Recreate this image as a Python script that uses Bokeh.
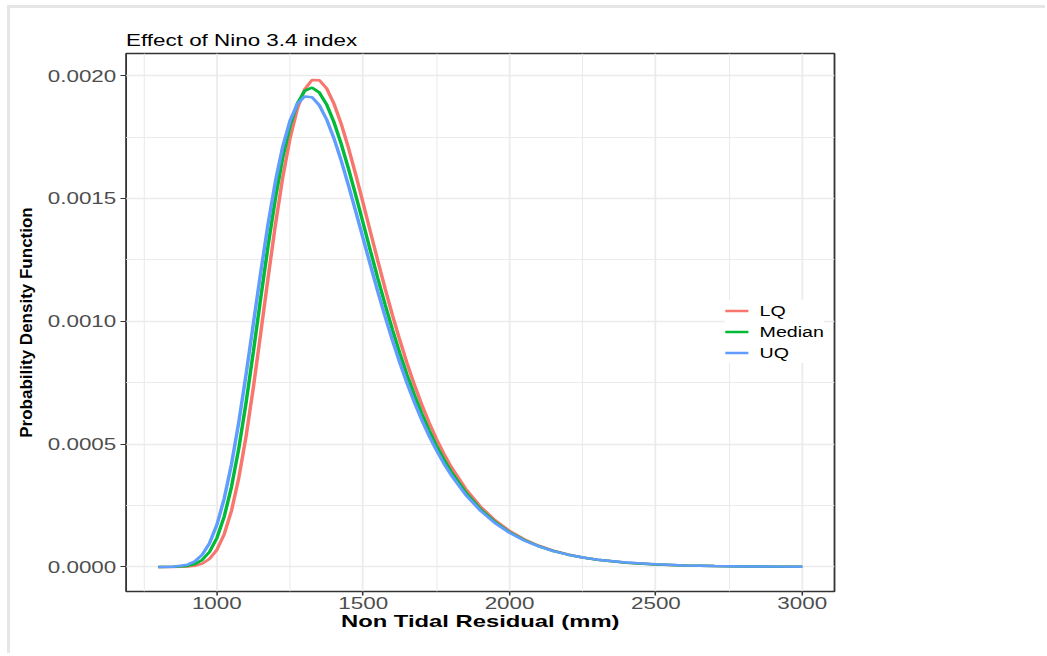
from bokeh.plotting import figure
from bokeh.models import (ColumnDataSource, Range1d, FixedTicker, Legend, LegendItem, Div)
from bokeh.layouts import row, column
from bokeh.embed import file_html
from bokeh.resources import INLINE

# Non tidal residual (mm) at which each density was evaluated
residual_mm = [800, 850, 900, 925, 950, 975, 1000, 1025, 1050, 1075, 1100, 1125, 1150, 1175,
               1200, 1225, 1250, 1275, 1300, 1325, 1350, 1375, 1400, 1425, 1450, 1475, 1500, 1525,
               1550, 1575, 1600, 1625, 1650, 1675, 1700, 1725, 1750, 1775, 1800, 1850, 1900, 1950,
               2000, 2050, 2100, 2150, 2200, 2250, 2300, 2400, 2500, 2600, 2700, 2800, 2900, 3000]

# Probability density, in units of 1e-7 per mm
pdf_lq = [0, 1, 14, 48, 135, 327, 697, 1327, 2290, 3627, 5328, 7331, 9524, 11768,
          13919, 15845, 17445, 18654, 19444, 19821, 19816, 19477, 18861, 18029, 17039, 15944, 14791, 13618,
          12456, 11327, 10248, 9232, 8284, 7409, 6606, 5876, 5214, 4618, 4083, 3178, 2462, 1901,
          1464, 1125, 863, 661, 506, 387, 296, 173, 101, 59, 34, 20, 12, 7]
pdf_median = [0, 3, 42, 118, 286, 613, 1174, 2041, 3257, 4827, 6699, 8782, 10949, 13065,
              15003, 16658, 17958, 18867, 19378, 19514, 19312, 18825, 18107, 17215, 16201, 15111, 13985, 12854,
              11744, 10674, 9656, 8701, 7812, 6993, 6242, 5559, 4940, 4383, 3882, 3033, 2359, 1829,
              1415, 1092, 842, 648, 499, 383, 294, 174, 102, 60, 35, 21, 12, 7]
pdf_uq = [0, 10, 92, 227, 495, 966, 1709, 2775, 4181, 5895, 7845, 9923, 12002, 13960,
          15688, 17106, 18164, 18844, 19154, 19123, 18795, 18218, 17447, 16531, 15518, 14448, 13355, 12268,
          11206, 10187, 9220, 8315, 7473, 6698, 5987, 5340, 4754, 4225, 3749, 2940, 2297, 1789,
          1390, 1077, 834, 645, 499, 385, 297, 177, 105, 62, 37, 22, 13, 8]

series_names = ["LQ", "Median", "UQ"]
series_colors = ["#F8766D", "#00BA38", "#619CFF"]

x_ticks = [1000, 1500, 2000, 2500, 3000]
x_tick_labels = ["1000", "1500", "2000", "2500", "3000"]
x_minor = [750, 1250, 1750, 2250, 2750]
y_ticks = [0.0, 0.0005, 0.0010, 0.0015, 0.0020]
y_tick_labels = ["0.0000", "0.0005", "0.0010", "0.0015", "0.0020"]
y_minor = [0.00025, 0.00075, 0.00125, 0.00175]

FONT = "Liberation Sans"
GRID = "#ebebeb"
DARK = "#333333"
EDGE_COLOR = "#e6e6e6"
STRETCH = 1.4

src = ColumnDataSource(dict(
    x=residual_mm,
    lq=[v * 1e-7 for v in pdf_lq],
    median=[v * 1e-7 for v in pdf_median],
    uq=[v * 1e-7 for v in pdf_uq],
))

# canvas is 715 px wide once stretched; the element itself is declared narrower
p = figure(width=round(715 / STRETCH), height=645, sizing_mode="fixed",
           min_border_left=61, min_border_right=148, min_border_top=45, min_border_bottom=62,
           x_range=Range1d(690, 3110), y_range=Range1d(-0.0001, 0.00209),
           toolbar_location=None, output_backend="svg",
           title="Effect of Nino 3.4 index")
p.background_fill_color = "white"
p.border_fill_color = "white"
p.outline_line_color = DARK
p.outline_line_width = 1.3

p.title.align = "left"
p.title.text_font = FONT
p.title.text_font_size = "16px"
p.title.text_font_style = "normal"
p.title.text_color = "black"
p.title.standoff = 9

renderers = []
for key, color in zip(["lq", "median", "uq"], series_colors):
    renderers.append(p.line("x", key, source=src, line_color=color, line_width=2.5))

legend = Legend(items=[LegendItem(label=n, renderers=[r]) for n, r in zip(series_names, renderers)],
                location=(428, 228), orientation="vertical",
                padding=3, margin=0, spacing=0,
                glyph_width=17, glyph_height=21, label_standoff=8,
                label_text_font=FONT, label_text_font_size="14px", label_text_color="black",
                border_line_color=None, background_fill_color="white", background_fill_alpha=1)
p.add_layout(legend)

xt = FixedTicker(ticks=x_ticks, minor_ticks=x_minor)
yt = FixedTicker(ticks=y_ticks, minor_ticks=y_minor)
p.xaxis.ticker = xt
p.yaxis.ticker = yt
p.xgrid.ticker = xt
p.ygrid.ticker = yt
p.xaxis.major_label_overrides = dict(zip(x_ticks, x_tick_labels))
p.yaxis.major_label_overrides = dict(zip(y_ticks, y_tick_labels))

for g in (p.xgrid, p.ygrid):
    g.grid_line_color = GRID
    g.grid_line_width = 1.3
    g.minor_grid_line_color = GRID
    g.minor_grid_line_width = 0.8

for ax in (p.xaxis, p.yaxis):
    ax.axis_line_color = None
    ax.major_tick_line_color = DARK
    ax.major_tick_line_width = 1.1
    ax.major_tick_in = 0
    ax.major_tick_out = 4
    ax.minor_tick_line_color = None
    ax.major_label_text_font = FONT
    ax.major_label_text_font_size = "16px"
    ax.major_label_text_color = "#4d4d4d"

p.xaxis.major_label_standoff = 2
p.yaxis.major_label_standoff = 3
p.xaxis.axis_label = "Non Tidal Residual (mm)"
p.xaxis.axis_label_text_font = FONT
p.xaxis.axis_label_text_font_size = "17px"
p.xaxis.axis_label_text_font_style = "bold"
p.xaxis.axis_label_text_color = "black"
p.xaxis.axis_label_standoff = 0

# the panel is drawn wide: stretch it horizontally
p.styles = {"transform": f"scaleX({STRETCH})", "transform-origin": "0 0"}

# narrow strip carrying the vertical axis title, left unstretched
yt_fig = figure(width=30, height=645, sizing_mode="fixed",
                min_border_left=25, min_border_right=0, min_border_top=45, min_border_bottom=62,
                x_range=Range1d(0, 1), y_range=Range1d(0, 1),
                toolbar_location=None, output_backend="svg", x_axis_location=None)
yt_fig.outline_line_color = None
yt_fig.grid.visible = False
yt_fig.yaxis.ticker = FixedTicker(ticks=[])
yt_fig.yaxis.axis_line_color = None
yt_fig.yaxis.major_tick_line_color = None
yt_fig.yaxis.minor_tick_line_color = None
yt_fig.yaxis.major_tick_out = 0
yt_fig.yaxis.major_label_standoff = 0
yt_fig.yaxis.axis_label = "Probability Density Function"
yt_fig.yaxis.axis_label_text_font = FONT
yt_fig.yaxis.axis_label_text_font_size = "17px"
yt_fig.yaxis.axis_label_text_font_style = "bold"
yt_fig.yaxis.axis_label_text_color = "black"
yt_fig.yaxis.axis_label_standoff = 0

# light page edge along the top and left
top_edge = Div(text="", width=1038, height=3, sizing_mode="fixed", margin=0,
               styles={"background-color": EDGE_COLOR})
body = row(yt_fig, p, margin=0, styles={"border-left": f"3px solid {EDGE_COLOR}"})
page = column(top_edge, body, margin=(5, 0, 0, 7), spacing=0)

open("out.html", "w").write(file_html(page, INLINE))
